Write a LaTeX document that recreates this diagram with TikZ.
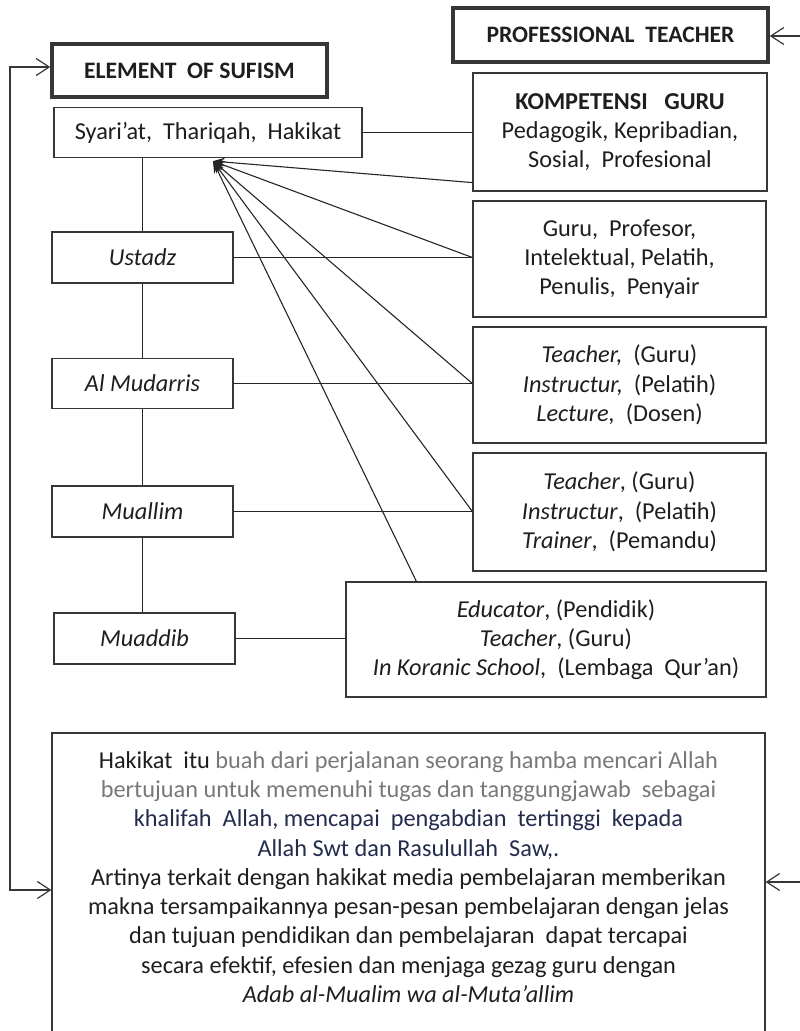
\documentclass[tikz,border=0pt]{standalone}
\usepackage{fontspec}
\setmainfont{Carlito}
\usetikzlibrary{arrows.meta,calc}
\definecolor{boxline}{RGB}{55,55,55}
\definecolor{txt}{RGB}{30,30,30}
\definecolor{graytxt}{RGB}{120,120,120}
\definecolor{navytxt}{RGB}{36,44,78}
\begin{document}
\begin{tikzpicture}[x=1pt,y=-1pt,
  font=\fontsize{24.3}{29.3}\selectfont,
  box/.style={draw=boxline, line width=1.2pt, inner sep=0pt, align=center, text=txt},
  thickbox/.style={box, line width=3.5pt, font=\fontsize{23.6}{28}\selectfont\bfseries},
  conn/.style={draw=black!85, line width=1.1pt},
  arr/.style={conn, -{Stealth[length=12pt,width=9pt]}},
  sidearr/.style={draw=boxline, line width=1.2pt, >={Straight Barb[length=13pt,width=17pt]}}
]
\useasboundingbox (0,0) rectangle (800,1031);

% header boxes
\node[thickbox, minimum width=275pt, minimum height=53pt] (elem) at (189.5,70.5) {ELEMENT\ \ OF SUFISM};
\node[thickbox, minimum width=315pt, minimum height=54pt] (prof) at (610.5,35) {PROFESSIONAL\ \ TEACHER};

% left column
\node[box, minimum width=308pt, minimum height=50pt] (syar) at (208,132.5) {Syari’at,\ \ Thariqah,\ \ Hakikat};
\node[box, minimum width=181pt, minimum height=51pt] (ustadz) at (142.5,257.5) {\itshape Ustadz};
\node[box, minimum width=181pt, minimum height=50pt] (mud) at (142.5,383.5) {\itshape Al Mudarris};
\node[box, minimum width=181pt, minimum height=51pt] (mual) at (142.5,511.5) {\itshape Muallim};
\node[box, minimum width=181pt, minimum height=51pt] (muad) at (144.5,638.5) {\itshape Muaddib};

% right column
\node[box, minimum width=294pt, minimum height=118pt] (komp) at (620,132)
  {\textbf{KOMPETENSI\ \ \ GURU}\\Pedagogik, Kepribadian,\\Sosial,\ \ Profesional};
\node[box, minimum width=293pt, minimum height=116pt] (guru) at (619.5,259)
  {Guru,\ \ Profesor,\\Intelektual, Pelatih,\\Penulis,\ \ Penyair};
\node[box, minimum width=293pt, minimum height=116pt] (tone) at (619.5,385)
  {\textit{Teacher,}\ \ (Guru)\\\textit{Instructur,}\ \ (Pelatih)\\\textit{Lecture,}\ \ (Dosen)};
\node[box, minimum width=293pt, minimum height=118pt] (ttwo) at (619.5,512)
  {\textit{Teacher},\ (Guru)\\\textit{Instructur},\ \ (Pelatih)\\\textit{Trainer},\ \ (Pemandu)};
\node[box, minimum width=420pt, minimum height=115pt] (edu) at (556,639.5)
  {\textit{Educator}, (Pendidik)\\\textit{Teacher}, (Guru)\\\textit{In Koranic School},\ \ (Lembaga\ \ Qur’an)};

% bottom box (open at the bottom edge of the picture)
\begin{scope}
  \clip (0,0) rectangle (800,1031);
  \node[box, minimum width=713pt, minimum height=320pt] (hakbox) at (408.5,893) {};
\end{scope}
\node[align=center, text=txt, inner sep=0pt] (haktext) at (408.5,877)
  {\textcolor{txt}{Hakikat\ \ itu}\ \textcolor{graytxt}{buah dari perjalanan seorang hamba mencari Allah}\\
   \textcolor{graytxt}{bertujuan untuk memenuhi tugas dan tanggungjawab\ \ sebagai}\\
   \textcolor{navytxt}{khalifah\ \ Allah,\ mencapai\ \ pengabdian\ \ tertinggi\ \ kepada}\\
   \textcolor{navytxt}{Allah Swt dan Rasulullah\ \ Saw,.}\\
   Artinya terkait dengan hakikat media pembelajaran memberikan\\
   makna tersampaikannya pesan-pesan pembelajaran dengan jelas\\
   dan tujuan pendidikan dan pembelajaran\ \ dapat tercapai\\
   secara efektif, efesien dan menjaga gezag guru dengan\\
   \textit{Adab al-Mualim wa al-Muta’allim}};

% vertical spine of left column
\draw[conn] (ustadz.north) -- (ustadz.north |- syar.south);
\draw[conn] (ustadz.south) -- (mud.north);
\draw[conn] (mud.south) -- (mual.north);
\draw[conn] (mual.south) -- (mual.south |- muad.north);

% horizontal links
\coordinate (pone) at ($(komp.south west)+(0,-9)$);
\coordinate (ptwo) at (ustadz.east -| guru.west);
\coordinate (pthree) at (mud.east -| tone.west);
\coordinate (pfour) at (mual.east -| ttwo.west);
\coordinate (pfive) at ($(edu.north west)+(71,0)$);
\draw[conn] (syar.east) -- (syar.east -| komp.west);
\draw[conn] (ustadz.east) -- (ptwo);
\draw[conn] (mud.east) -- (pthree);
\draw[conn] (mual.east) -- (pfour);
\draw[conn] (muad.east) -- (muad.east -| edu.west);

% converging arrows
\coordinate (conv) at ($(syar.south)+(5,3)$);
\draw[arr] (pone) -- (conv);
\draw[arr] (ptwo) -- (conv);
\draw[arr] (pthree) -- (conv);
\draw[arr] (pfour) -- (conv);
\draw[arr] (pfive) -- (conv);

% side arrows
\coordinate (LT) at (10,67);
\coordinate (LB) at (10,890);
\draw[sidearr, <->] (LT -| elem.west) -- (LT) -- (LB) -- (LB -| hakbox.west);
\coordinate (RT) at (801,36);
\coordinate (RB) at (801,882);
\draw[sidearr, ->] (RT) -- (RT -| prof.east);
\draw[sidearr, ->] (RB) -- (RB -| hakbox.east);
\end{tikzpicture}
\end{document}
